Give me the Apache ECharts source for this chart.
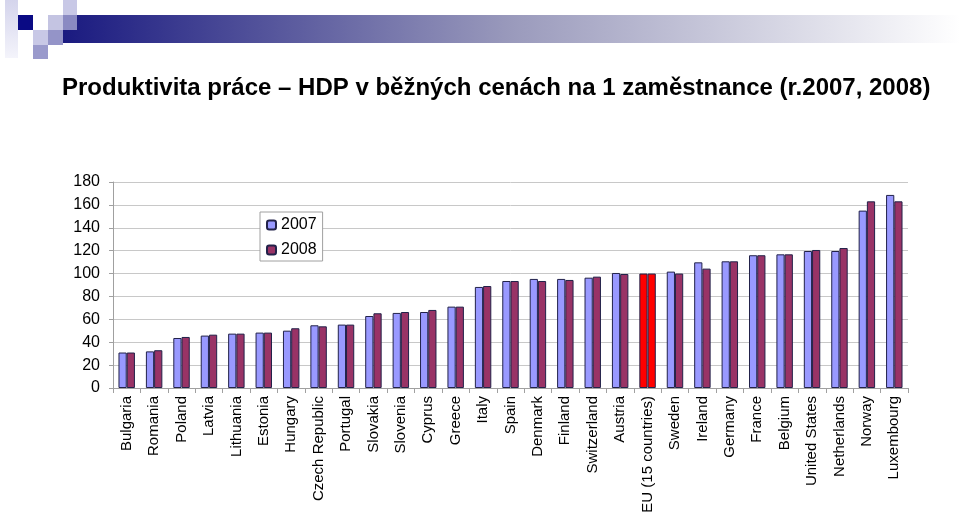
<!DOCTYPE html>
<html>
<head>
<meta charset="utf-8">
<script src="https://cdn.jsdelivr.net/npm/echarts@6/dist/echarts.min.js"></script>
<style>
  html, body { margin: 0; padding: 0; background: #fff; }
  #chart { width: 960px; height: 529px; }
</style>
</head>
<body>
<div id="chart"></div>
<script>
// kategorie (země)
const countries = ['Bulgaria', 'Romania', 'Poland', 'Latvia', 'Lithuania', 'Estonia', 'Hungary',
  'Czech Republic', 'Portugal', 'Slovakia', 'Slovenia', 'Cyprus', 'Greece', 'Italy', 'Spain',
  'Denmark', 'Finland', 'Switzerland', 'Austria', 'EU (15 countries)', 'Sweden', 'Ireland',
  'Germany', 'France', 'Belgium', 'United States', 'Netherlands', 'Norway', 'Luxembourg'];

// hodnoty 2007 a 2008
const values2007 = [31, 32, 43.7, 45.8, 47.5, 48.4, 50.1, 54.8, 55.4, 62.9, 65.6, 66.4, 71.1,
  88.3, 93.5, 95.3, 95.3, 96.4, 100.5, 100, 101.7, 109.8, 110.7, 116, 116.8, 119.7, 119.7, 155, 168.7];
const values2008 = [31, 33, 44.6, 46.6, 47.5, 48.4, 52.2, 53.9, 55.4, 65.3, 66.4, 68.2, 71.1,
  89.1, 93.5, 93.5, 94.4, 97.3, 99.6, 100, 100, 104.3, 110.7, 116, 116.8, 120.6, 122.3, 163.1, 163.1];

// EU15 je zvýrazněná červeně
const highlight = 'EU (15 countries)';

const FONT = 'Arial, "Liberation Sans", sans-serif';

const myChart = echarts.init(document.getElementById('chart'));

const toData = vals => vals.map((v, i) => countries[i] === highlight
  ? { value: v, itemStyle: { color: '#FF0000' } }
  : v);

const options = {
  animation: false,
  textStyle: { fontFamily: FONT },
  title: {
    text: 'Produktivita práce – HDP v běžných cenách na 1 zaměstnance (r.2007, 2008)',
    left: 57,
    top: 71,
    textStyle: { fontSize: 24, fontWeight: 'bold', color: '#000', fontFamily: FONT }
  },
  // záhlaví - čtverečky a přechodový pruh
  graphic: [
    {
      type: 'rect', shape: { x: 5, y: 0, width: 13, height: 58 },
      style: { fill: new echarts.graphic.LinearGradient(0, 0, 0, 1, [
        { offset: 0, color: '#d4d4ec' }, { offset: 1, color: '#f4f4fb' }]) }
    },
    {
      type: 'rect', shape: { x: 63, y: 15, width: 897, height: 28 },
      style: { fill: new echarts.graphic.LinearGradient(0, 0, 1, 0, [
        { offset: 0, color: '#1a1a80' }, { offset: 0.5, color: '#9a9abc' }, { offset: 1, color: '#ffffff' }]) }
    },
    { type: 'rect', shape: { x: 18, y: 15, width: 15, height: 15 }, style: { fill: '#0a0a84' } },
    { type: 'rect', shape: { x: 33, y: 30, width: 15, height: 15 }, style: { fill: '#c8c8e6' } },
    { type: 'rect', shape: { x: 33, y: 45, width: 15, height: 14 }, style: { fill: '#9a9acc' } },
    { type: 'rect', shape: { x: 48, y: 15, width: 15, height: 15 }, style: { fill: '#c4c4e2' } },
    { type: 'rect', shape: { x: 48, y: 30, width: 15, height: 15 }, style: { fill: '#9494c8' } },
    { type: 'rect', shape: { x: 63, y: 0, width: 14, height: 15 }, style: { fill: '#c8c8e6' } },
    { type: 'rect', shape: { x: 63, y: 15, width: 14, height: 15 }, style: { fill: '#8a8ac2' } }
  ],
  legend: {
    data: ['2007', '2008'],
    orient: 'vertical',
    left: 260,
    top: 212,
    padding: [5, 6, 3, 6],
    itemGap: 9,
    itemWidth: 9,
    itemHeight: 9,
    backgroundColor: '#fff',
    borderColor: '#a0a0a0',
    borderWidth: 1,
    borderRadius: 0,
    textStyle: { fontSize: 16, color: '#000', fontFamily: FONT }
  },
  grid: {
    left: 113,
    right: 52,
    top: 182,
    bottom: 141,
    containLabel: false
  },
  xAxis: {
    type: 'category',
    data: countries,
    axisLine: { lineStyle: { color: '#a0a0a0' } },
    axisTick: { show: true, length: 5, lineStyle: { color: '#a0a0a0' } },
    axisLabel: {
      rotate: 90,
      interval: 0,
      margin: 8,
      fontSize: 15,
      color: '#000',
      fontFamily: FONT
    }
  },
  yAxis: {
    type: 'value',
    min: 0,
    max: 180,
    interval: 20,
    axisLine: { show: true, lineStyle: { color: '#a0a0a0' } },
    axisTick: { show: true, length: 4, lineStyle: { color: '#a0a0a0' } },
    splitLine: { lineStyle: { color: '#c8c8c8' } },
    axisLabel: { fontSize: 16, color: '#000', margin: 13, fontFamily: FONT }
  },
  series: [
    {
      name: '2007',
      type: 'bar',
      barWidth: '30%',
      barGap: '0%',
      itemStyle: { color: '#9999FF', borderColor: '#22224a', borderWidth: 1 },
      data: toData(values2007)
    },
    {
      name: '2008',
      type: 'bar',
      barWidth: '30%',
      barGap: '0%',
      itemStyle: { color: '#993366', borderColor: '#22224a', borderWidth: 1 },
      data: toData(values2008)
    }
  ]
};

myChart.setOption(options);
</script>
</body>
</html>
